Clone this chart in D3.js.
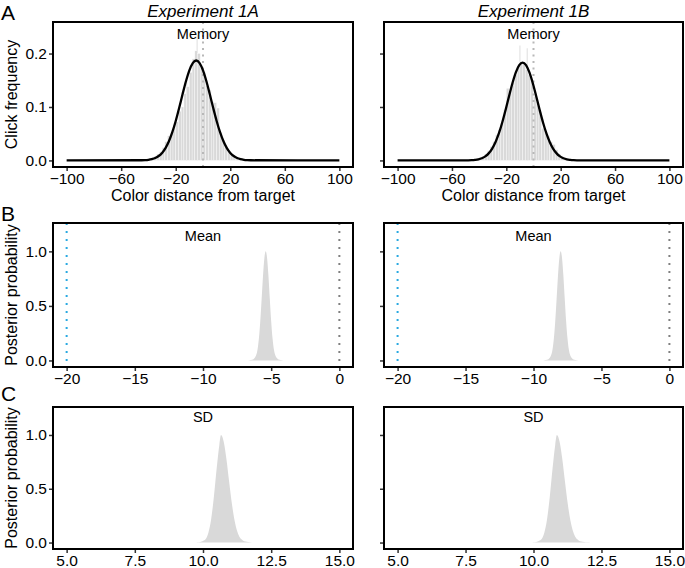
<!DOCTYPE html>
<html><head><meta charset="utf-8">
<script src="https://cdn.jsdelivr.net/npm/d3@7"></script>
<style>body{margin:0;background:#fff}svg{display:block;font-family:"Liberation Sans",Arial,Helvetica,sans-serif}</style>
</head><body><svg id="c" width="685" height="568"></svg>
<script>
// ---------- data ----------
const experiments = ["Experiment 1A", "Experiment 1B"];
const panelLetters = ["A", "B", "C"];
const facetLabels = ["Memory", "Mean", "SD"];

// histogram of click errors (bin width 2), bin centres and click frequency
const histCenters1A = d3.range(-47, 34, 2);
const histValues1A = [0.001,0.001,0.002,0.003,0.004,0.006,0.008,0.012,0.016,0.024,0.035,0.046,0.050,0.066,0.072,0.092,0.100,0.125,0.138,0.165,0.190,0.205,0.200,0.175,0.165,0.140,0.132,0.110,0.108,0.098,0.052,0.038,0.025,0.016,0.010,0.007,0.005,0.003,0.002,0.001,0.001];
const histCenters1B = d3.range(-49, 32, 2);
const histValues1B = [0.001,0.001,0.002,0.003,0.004,0.006,0.008,0.012,0.018,0.026,0.035,0.048,0.058,0.070,0.095,0.135,0.128,0.145,0.160,0.175,0.185,0.182,0.170,0.160,0.150,0.120,0.110,0.090,0.060,0.055,0.045,0.035,0.030,0.020,0.012,0.008,0.005,0.003,0.002,0.001,0.001];
// thin light spikes above the histogram
const spikeX1A = [-4.3, -12];
const spikeY1A = [0.235, 0.15];
const spikeX1B = [-10, -4.6, -15.8];
const spikeY1B = [0.215, 0.21, 0.14];

// fitted curve (click frequency)
const curveX1A = [-100,-45,-42.5,-40,-37.5,-35,-32.5,-30,-27.5,-25,-22.5,-20,-17.5,-15,-12.5,-10,-7.5,-5,-2.5,0,2.5,5,7.5,10,12.5,15,17.5,20,22.5,25,27.5,30,32.5,35,100];
const curveY1A = [0,0.0003,0.0006,0.0012,0.0024,0.0045,0.0082,0.0141,0.0231,0.0358,0.0528,0.0738,0.0980,0.1237,0.1482,0.1686,0.1822,0.187,0.1822,0.1686,0.1482,0.1237,0.0980,0.0738,0.0528,0.0358,0.0231,0.0141,0.0082,0.0045,0.0024,0.0012,0.0006,0.0003,0];
const curveX1B = [-100,-48,-45.5,-43,-40.5,-38,-35.5,-33,-30.5,-28,-25.5,-23,-20.5,-18,-15.5,-13,-10.5,-8,-5.5,-3,-0.5,2,4.5,7,9.5,12,14.5,17,19.5,22,24.5,27,29.5,32,100];
const curveY1B = [0,0.0002,0.0005,0.0011,0.0021,0.0041,0.0076,0.0132,0.0217,0.0340,0.0504,0.0710,0.0948,0.1201,0.1444,0.1647,0.1783,0.183,0.1783,0.1647,0.1444,0.1201,0.0948,0.0710,0.0504,0.0340,0.0217,0.0132,0.0076,0.0041,0.0021,0.0011,0.0005,0.0002,0];

// posterior of the mean
const meanX1A = [-6.8,-6.6,-6.4,-6.2,-6.0,-5.9,-5.8,-5.7,-5.6,-5.5,-5.4,-5.3,-5.2,-5.1,-5.0,-4.9,-4.8,-4.6,-4.4,-4.2,-4.0];
const meanY1A = [0,0.002,0.006,0.025,0.1,0.203,0.36,0.563,0.775,0.938,1,0.938,0.775,0.563,0.36,0.203,0.1,0.025,0.006,0.002,0];
const meanX1B = [-9.4,-9.2,-9.0,-8.8,-8.6,-8.5,-8.4,-8.3,-8.2,-8.1,-8.0,-7.9,-7.8,-7.7,-7.6,-7.5,-7.4,-7.2,-7.0,-6.8,-6.6];
const meanY1B = [0,0.002,0.006,0.025,0.1,0.203,0.36,0.563,0.775,0.938,1,0.938,0.775,0.563,0.36,0.203,0.1,0.025,0.006,0.002,0];

// posterior of the SD
const sdX1A = [9.7,9.8,9.9,10.0,10.1,10.2,10.3,10.4,10.5,10.6,10.66,10.76,10.86,10.96,11.06,11.16,11.26,11.36,11.46,11.56,11.66,11.8];
const sdY1A = [0,0.002,0.006,0.015,0.033,0.094,0.22,0.427,0.685,0.91,1,0.938,0.775,0.563,0.36,0.203,0.1,0.044,0.02,0.009,0.004,0];
const sdX1B = [9.9,10.0,10.1,10.2,10.3,10.4,10.5,10.6,10.7,10.8,10.86,10.96,11.06,11.16,11.26,11.36,11.46,11.56,11.66,11.76,11.86,11.96,12.1];
const sdY1B = [0,0.002,0.006,0.015,0.033,0.094,0.22,0.427,0.685,0.91,1,0.938,0.775,0.563,0.36,0.203,0.1,0.044,0.02,0.009,0.004,0.002,0];

const ticksA_x = [-100,-60,-20,20,60,100];
const ticksA_y = [0,0.1,0.2];
const ticksB_x = [-20,-15,-10,-5,0];
const ticksC_x = [5,7.5,10,12.5,15];
const ticksBC_y = [0,0.5,1];
const refTarget = 0;     // target colour (gray dotted)
const refGuess = -20;    // blue dotted reference

// ---------- layout ----------
const svg = d3.select("#c");
const cols = [{l:53, r:353}, {l:384, r:683}];
const rows = [{t:22, b:167}, {t:223, b:367}, {t:407, b:549}];
const FONT = '"Liberation Sans",Arial,Helvetica,sans-serif';
const histFill = "#d9d9d9";

function frame(g, x, y, xt, yt, xfmt, showY, yfmt) {
  const [x0, x1] = x.range(), [y0, y1] = y.range();
  const ax = g.append("g").attr("transform", `translate(0,${y0})`)
    .call(d3.axisBottom(x).tickValues(xt).tickFormat(d3.format(xfmt)).tickSize(4).tickPadding(2).tickSizeOuter(0));
  ax.select(".domain").remove();
  ax.selectAll("line").attr("stroke", "#333").attr("stroke-width", 1.5);
  ax.selectAll("text").attr("font-size", 15.5).attr("fill", "#000").attr("font-family", FONT);
  const ay = g.append("g").attr("transform", `translate(${x0},0)`)
    .call(d3.axisLeft(y).tickValues(yt).tickFormat(showY ? d3.format(yfmt) : () => "").tickSize(4).tickPadding(2).tickSizeOuter(0));
  ay.select(".domain").remove();
  ay.selectAll("line").attr("stroke", "#333").attr("stroke-width", 1.5);
  ay.selectAll("text").attr("font-size", 15.5).attr("fill", "#000").attr("font-family", FONT);
  g.append("rect").attr("x", x0).attr("y", y1).attr("width", x1 - x0).attr("height", y0 - y1)
    .attr("fill", "none").attr("stroke", "#000").attr("stroke-width", 2);
}

const histData = [[histCenters1A, histValues1A, spikeX1A, spikeY1A, curveX1A, curveY1A],
                  [histCenters1B, histValues1B, spikeX1B, spikeY1B, curveX1B, curveY1B]];
const meanData = [[meanX1A, meanY1A], [meanX1B, meanY1B]];
const sdData = [[sdX1A, sdY1A], [sdX1B, sdY1B]];

cols.forEach((c, ci) => {
  // ----- row A -----
  {
    const r = rows[0];
    const g = svg.append("g");
    const x = d3.scaleLinear().domain([-110, 110]).range([c.l, c.r]);
    const y = d3.scaleLinear().domain([-0.0123, 0.259]).range([r.b, r.t]);
    const [hc, hv, sx, sy, cx, cy] = histData[ci];
    const bw = 2;
    g.selectAll("line.spike").data(sx).join("line").attr("class", "spike")
      .attr("x1", d => x(d)).attr("x2", d => x(d)).attr("y1", y(0)).attr("y2", (d, i) => y(sy[i]))
      .attr("stroke", "#e4e4e4").attr("stroke-width", 1.2);
    g.selectAll("rect.bar").data(hc).join("rect").attr("class", "bar")
      .attr("x", d => x(d - bw / 2)).attr("width", d => x(d + bw / 2) - x(d - bw / 2))
      .attr("y", (d, i) => y(hv[i])).attr("height", (d, i) => y(0) - y(hv[i]))
      .attr("fill", histFill).attr("stroke", "#fff").attr("stroke-width", 0.35);
    g.append("line").attr("x1", x(refTarget)).attr("x2", x(refTarget)).attr("y1", r.t).attr("y2", r.b)
      .attr("stroke", "#b8b8b8").attr("stroke-width", 2).attr("stroke-dasharray", "2,4.5");
    g.append("path").datum(cx).attr("fill", "none").attr("stroke", "#000").attr("stroke-width", 2.3)
      .attr("d", d3.line().x(d => x(d)).y((d, i) => y(cy[i])).curve(d3.curveMonotoneX));
    frame(g, x, y, ticksA_x, ticksA_y, "d", ci === 0, ".1f");
    g.append("text").attr("x", (c.l + c.r) / 2).attr("y", 39).attr("text-anchor", "middle")
      .attr("font-size", 14.5).attr("font-family", FONT).text(facetLabels[0]);
    g.append("text").attr("x", (c.l + c.r) / 2).attr("y", 201).attr("text-anchor", "middle")
      .attr("font-size", 16).attr("font-family", FONT).text("Color distance from target");
    g.append("text").attr("x", (c.l + c.r) / 2).attr("y", 17).attr("text-anchor", "middle")
      .attr("font-size", 17).attr("font-style", "italic").attr("font-family", FONT).text(experiments[ci]);
  }
  // ----- row B -----
  {
    const r = rows[1];
    const g = svg.append("g");
    const x = d3.scaleLinear().domain([-21, 1]).range([c.l, c.r]);
    const y = d3.scaleLinear().domain([-0.06, 1.26]).range([r.b, r.t]);
    const [mx, my] = meanData[ci];
    g.append("path").datum(mx).attr("fill", histFill)
      .attr("d", d3.area().x(d => x(d)).y0(y(0)).y1((d, i) => y(my[i])).curve(d3.curveMonotoneX));
    g.append("line").attr("x1", x(refGuess)).attr("x2", x(refGuess)).attr("y1", r.t).attr("y2", r.b)
      .attr("stroke", "#29a9e1").attr("stroke-width", 2).attr("stroke-dasharray", "2,6");
    g.append("line").attr("x1", x(refTarget)).attr("x2", x(refTarget)).attr("y1", r.t).attr("y2", r.b)
      .attr("stroke", "#808080").attr("stroke-width", 2).attr("stroke-dasharray", "2,6");
    frame(g, x, y, ticksB_x, ticksBC_y, "d", ci === 0, ".1f");
    g.append("text").attr("x", (c.l + c.r) / 2).attr("y", 241).attr("text-anchor", "middle")
      .attr("font-size", 14.5).attr("font-family", FONT).text(facetLabels[1]);
  }
  // ----- row C -----
  {
    const r = rows[2];
    const g = svg.append("g");
    const x = d3.scaleLinear().domain([4.5, 15.5]).range([c.l, c.r]);
    const y = d3.scaleLinear().domain([-0.06, 1.26]).range([r.b, r.t]);
    const [sx, sy] = sdData[ci];
    g.append("path").datum(sx).attr("fill", histFill)
      .attr("d", d3.area().x(d => x(d)).y0(y(0)).y1((d, i) => y(sy[i])).curve(d3.curveMonotoneX));
    frame(g, x, y, ticksC_x, ticksBC_y, ".1f", ci === 0, ".1f");
    g.append("text").attr("x", (c.l + c.r) / 2).attr("y", 422).attr("text-anchor", "middle")
      .attr("font-size", 14.5).attr("font-family", FONT).text(facetLabels[2]);
  }
});

// y-axis titles
const yTitles = ["Click frequency", "Posterior probability", "Posterior probability"];
rows.forEach((r, i) => {
  svg.append("text").attr("transform", `translate(17,${(r.t + r.b) / 2}) rotate(-90)`)
    .attr("text-anchor", "middle").attr("font-size", 16).attr("font-family", FONT).text(yTitles[i]);
});
// panel letters
const letterY = [20, 221, 401];
panelLetters.forEach((L, i) => {
  svg.append("text").attr("x", 1).attr("y", letterY[i]).attr("font-size", 21)
    .attr("font-family", FONT).text(L);
});
</script></body></html>
